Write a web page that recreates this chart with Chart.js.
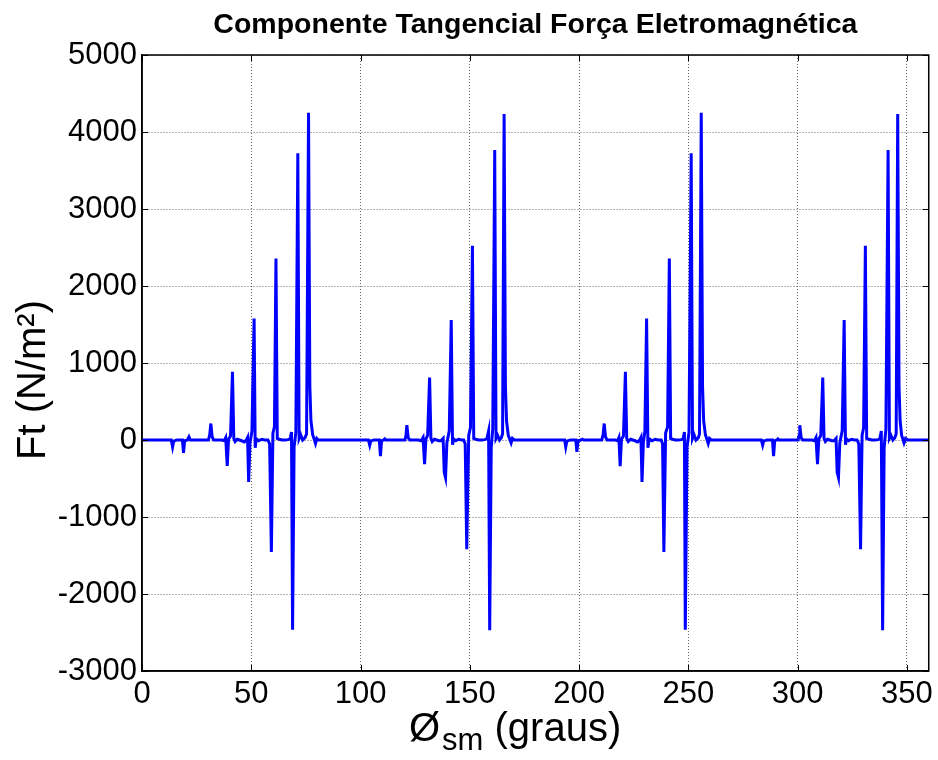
<!DOCTYPE html>
<html lang="pt">
<head>
<meta charset="utf-8">
<title>Componente Tangencial Força Eletromagnética</title>
<script src="https://cdn.jsdelivr.net/npm/chart.js@4/dist/chart.umd.min.js"></script>
<style>
  html, body { margin: 0; padding: 0; background: #fff; }
  #wrap { width: 938px; height: 760px; position: relative; }
</style>
</head>
<body>
<div id="wrap"><canvas id="grafico" width="938" height="760"></canvas></div>
<script>
// Força tangencial (N/m²) em função da posição angular (graus), um bloco por polo

const angP1 = [0, 13.4, 14.0, 14.5, 15.4, 16.0, 18.5, 19.0, 19.5, 20.8, 21.5, 22.1, 30.4, 31.0, 31.5, 32.1, 32.8,
  36.5, 37.6, 38.3, 39.0, 39.6, 40.5, 41.4, 42.0, 42.6, 43.6, 44.6, 45.6, 46.8, 47.8, 48.3, 48.8, 49.4, 50.3,
  51.3, 51.8, 52.3, 53.4, 54.8, 56.2, 57.6, 58.4, 59.2, 59.9, 60.6, 61.3, 61.9, 62.8, 64.0, 65.5, 66.8, 67.8,
  68.4, 68.9, 69.6, 70.4, 71.3, 71.9, 72.6, 73.5, 74.6, 75.3, 76.2, 76.8, 77.3, 78.1, 78.8, 79.4, 80.0, 80.7];
const ftP1 = [0, 0, -90, -15, -5, 0, 0, -167, -10, 0, 40, 0, 0, 70, 214, 40, 0,
  0, -10, 30, -336, 10, 50, 885, 20, -20, 10, 0, -10, -25, 0, 30, -544, -40, 110,
  1578, -100, 15, -10, 10, 0, 0, -50, -1454, 90, 170, 2358, 20, 10, 0, 0, 5, 15,
  105, -2463, -90, 100, 3723, 20, 70, 0, 30, 80, 4250, 700, 250, 70, 10, -45, 20, 0];

const angP2 = [90, 103.6, 104.2, 104.7, 105.5, 106.0, 108.6, 109.1, 109.6, 110.6, 111.1, 111.6, 120.3, 120.8, 121.2, 121.8, 122.5,
  126.5, 127.8, 128.6, 129.3, 129.9, 130.7, 131.6, 132.2, 132.8, 133.8, 134.8, 135.8, 136.8, 137.8, 138.3, 138.9, 139.5, 140.6,
  141.5, 142.1, 142.6, 143.6, 144.8, 146.2, 147.2, 147.9, 148.6, 149.5, 150.3, 151.2, 151.8, 152.7, 154.0, 155.5, 156.8, 157.8,
  158.6, 159.1, 159.8, 160.5, 161.4, 162.0, 162.7, 163.6, 164.4, 165.0, 165.7, 166.3, 166.8, 167.6, 168.3, 168.9, 169.5, 170.3];
const ftP2 = [0, 0, -68, -10, -5, 0, 0, -210, -10, 0, 15, 0, 0, 60, 192, 30, 0,
  0, -10, 30, -314, 10, 60, 812, 20, -20, 10, 0, -10, -10, 20, -420, -488, -40, 120,
  1557, -60, 15, -10, 10, 0, 0, -50, -1419, 60, 160, 2523, 20, 10, 0, 0, 5, 15,
  118, -2472, -100, 140, 3766, 20, 60, 0, 30, 80, 4233, 700, 250, 60, 10, -38, 20, 0];

const angP3 = [180, 193.4, 193.9, 194.4, 195.4, 196.0, 198.5, 199.0, 199.5, 200.8, 201.5, 202.1, 210.4, 211.0, 211.5, 212.1, 212.8,
  216.5, 217.6, 218.2, 218.8, 219.4, 220.3, 221.2, 221.8, 222.5, 223.6, 224.6, 225.6, 226.8, 227.8, 228.3, 228.8, 229.4, 230.1,
  230.9, 231.5, 232.1, 233.4, 234.8, 236.2, 237.6, 238.2, 238.8, 239.6, 240.5, 241.3, 241.9, 242.8, 244.0, 245.5, 246.8, 247.6,
  248.2, 248.6, 249.4, 250.3, 251.3, 251.9, 252.6, 253.5, 254.6, 255.1, 255.9, 256.5, 257.0, 257.8, 258.5, 259.1, 259.7, 260.5];
const ftP3 = [0, 0, -90, -15, -5, 0, 0, -155, -10, 0, 10, 0, 0, 70, 214, 40, 0,
  0, -10, 30, -340, 10, 50, 885, 20, -20, 10, 0, -10, -25, 0, 30, -544, -40, 110,
  1578, -100, 15, -10, 10, 0, 0, -50, -1454, 90, 170, 2358, 20, 10, 0, 0, 5, 15,
  105, -2463, -90, 100, 3723, 20, 70, 0, 30, 80, 4250, 700, 250, 70, 10, -45, 20, 0];

const angP4 = [270, 283.4, 284.0, 284.5, 285.4, 286.0, 288.5, 289.0, 289.5, 290.5, 291.0, 291.5, 300.2, 300.7, 301.0, 301.6, 302.3,
  306.5, 307.7, 308.4, 309.1, 309.7, 310.6, 311.5, 312.1, 312.7, 313.7, 314.7, 315.7, 316.7, 317.6, 318.1, 318.7, 319.3, 320.4,
  321.3, 321.9, 322.4, 323.4, 324.6, 326.0, 327.2, 328.0, 328.8, 329.5, 330.2, 331.0, 331.6, 332.6, 334.0, 335.5, 336.8, 337.6,
  338.3, 338.9, 339.6, 340.4, 341.4, 342.0, 342.7, 343.6, 344.5, 345.1, 345.8, 346.4, 346.9, 347.6, 348.2, 348.7, 349.4, 350.3, 360];
const ftP4 = [0, 0, -68, -10, -5, 0, 0, -210, -10, 0, 15, 0, 0, 60, 192, 30, 0,
  0, -10, 30, -314, 10, 60, 812, 20, -20, 10, 0, -10, -10, 20, -420, -488, -40, 120,
  1557, -60, 15, -10, 10, 0, 0, -50, -1419, 60, 160, 2523, 20, 10, 0, 0, 5, 15,
  118, -2472, -100, 140, 3766, 20, 60, 0, 30, 80, 4233, 700, 250, 60, 10, -38, 20, 0, 0];

const ticksX = [0, 50, 100, 150, 200, 250, 300, 350];
const ticksY = [-3000, -2000, -1000, 0, 1000, 2000, 3000, 4000, 5000];

const angulos = [...angP1, ...angP2, ...angP3, ...angP4];
const forcas = [...ftP1, ...ftP2, ...ftP3, ...ftP4];

const FONTE = "'Liberation Sans', Arial, Helvetica, sans-serif";

// caixa fechada, marcas internas e rótulos dos eixos (com subscrito)
const molduraPlugin = {
  id: "moldura",
  afterDraw(chart) {
    const { ctx, chartArea: a, scales } = chart;
    ctx.save();
    ctx.strokeStyle = "#000";
    ctx.lineWidth = 1.5;
    ctx.strokeRect(a.left, a.top, a.right - a.left, a.bottom - a.top);

    ctx.lineWidth = 1;
    ctx.beginPath();
    ticksX.forEach((v) => {
      const x = Math.round(scales.x.getPixelForValue(v)) + 0.5;
      ctx.moveTo(x, a.bottom); ctx.lineTo(x, a.bottom - 6);
      ctx.moveTo(x, a.top); ctx.lineTo(x, a.top + 6);
    });
    ticksY.forEach((v) => {
      const y = Math.round(scales.y.getPixelForValue(v)) + 0.5;
      ctx.moveTo(a.left, y); ctx.lineTo(a.left + 6, y);
      ctx.moveTo(a.right, y); ctx.lineTo(a.right - 6, y);
    });
    ctx.stroke();

    // rótulo do eixo x: Ø com subscrito "sm"
    ctx.fillStyle = "#000";
    ctx.textBaseline = "alphabetic";
    ctx.textAlign = "left";
    const yb = 741;
    let x0 = 409;
    ctx.font = `40px ${FONTE}`;
    ctx.fillText("Ø", x0, yb);
    x0 += ctx.measureText("Ø").width + 2;
    ctx.font = `31px ${FONTE}`;
    ctx.fillText("sm", x0, yb + 9);
    x0 += ctx.measureText("sm").width;
    ctx.font = `40px ${FONTE}`;
    ctx.fillText(" (graus)", x0, yb);

    // rótulo do eixo y
    ctx.translate(45, 380);
    ctx.rotate(-Math.PI / 2);
    ctx.textAlign = "center";
    ctx.font = `40px ${FONTE}`;
    ctx.fillText("Ft (N/m²)", 0, 0);
    ctx.restore();
  },
};

new Chart(document.getElementById("grafico"), {
  type: "line",
  data: {
    datasets: [
      {
        data: angulos.map((a, i) => ({ x: a, y: forcas[i] })),
        borderColor: "#0000FF",
        borderWidth: 3,
        pointRadius: 0,
        tension: 0,
        fill: false,
      },
    ],
  },
  options: {
    responsive: false,
    animation: false,
    layout: { padding: { left: 0, right: 7, top: 0, bottom: 0 } },
    plugins: {
      legend: { display: false },
      tooltip: { enabled: false },
      title: {
        display: true,
        fullSize: false,
        text: "Componente Tangencial Força Eletromagnética",
        color: "#000",
        font: { family: FONTE, size: 28.5, weight: "bold" },
        padding: { top: 8, bottom: 12.8 },
      },
    },
    scales: {
      x: {
        type: "linear",
        min: 0,
        max: 360,
        afterBuildTicks: (s) => { s.ticks = ticksX.map((v) => ({ value: v })); },
        afterFit: (s) => { s.height = 89; },
        ticks: {
          color: "#000", font: { family: FONTE, size: 31 }, padding: 5, maxRotation: 0, autoSkip: false,
          callback: (v) => String(v),
        },
        grid: { color: "rgba(0,0,0,0.6)", lineWidth: 1, drawTicks: false },
        border: { display: true, color: "#000", width: 1.5, dash: [1, 2] },
      },
      y: {
        type: "linear",
        min: -3000,
        max: 5000,
        afterBuildTicks: (s) => { s.ticks = ticksY.map((v) => ({ value: v })); },
        afterFit: (s) => { s.width = 142; },
        ticks: { color: "#000", font: { family: FONTE, size: 31 }, padding: 5, callback: (v) => String(v) },
        grid: { color: "rgba(0,0,0,0.6)", lineWidth: 1, drawTicks: false },
        border: { display: true, color: "#000", width: 1.5, dash: [1, 2] },
      },
    },
  },
  plugins: [molduraPlugin],
});
</script>
</body>
</html>
